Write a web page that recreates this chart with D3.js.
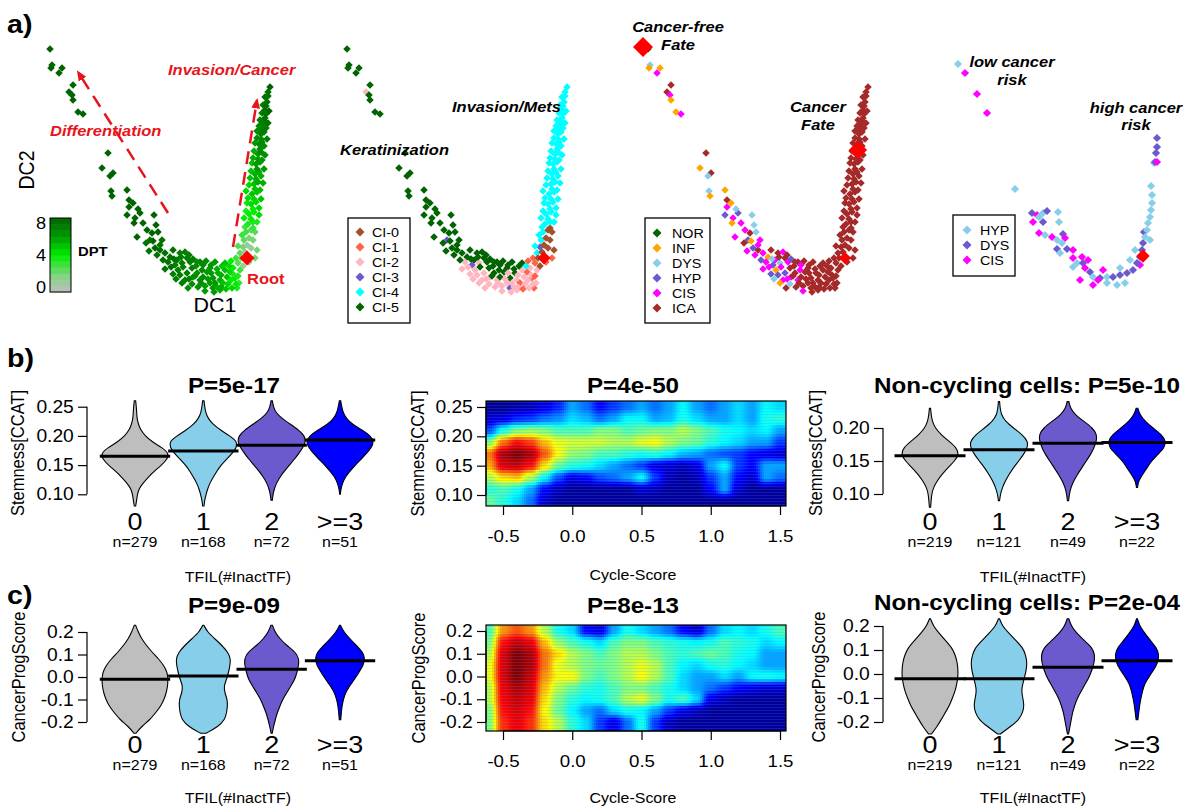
<!DOCTYPE html>
<html>
<head>
<meta charset="utf-8">
<title>TFIL figure</title>
<script src="https://cdn.jsdelivr.net/npm/d3@7"></script>
<style>
  body { margin: 0; background: #fff; }
  svg { display: block; font-family: "Liberation Sans", Arial, Helvetica, sans-serif; }
</style>
</head>
<body>
<div id="figure"></div>
<script>
// ---------------- data ----------------

// panel a: diffusion map, one row per cell: [DC1, DC2, DPT, cluster, stage]
const clusterNames = ["CI-0", "CI-1", "CI-2", "CI-3", "CI-4", "CI-5"];
const clusterColors = ["#a0522d", "#ff6347", "#ffb6c1", "#6a5acd", "#00ffff", "#006400"];
const stageNames = ["NOR", "INF", "DYS", "HYP", "CIS", "ICA"];
const stageColors = ["#006400", "#ffa500", "#87ceeb", "#6a5acd", "#ff00ff", "#a52a2a"];
const riskNames = ["HYP", "DYS", "CIS"];
const riskColors = ["#87ceeb", "#6a5acd", "#ff00ff"];

const cells = [
  [2.5,123,8,5,0],[3.5,115,8,5,2],[3,113.5,8,5,1],[8.5,113.5,8,5,1],[7,111,8,5,4],
  [14,105,8,5,5],[12,101.5,8,2,5],[13.5,100,8,5,4],[14,97.5,8,5,1],[16.5,91.5,8,5,1],
  [19,90.5,8,5,4],[31.5,71,8,5,5],[28.5,63.5,8,5,1],[34,61,8,5,5],[32.5,59.5,8,5,2],
  [33,52,8,5,2],[33.5,49.5,8,5,1],[41,52.5,8,5,1],[42,47.5,8,5,5],[44,46,8,5,1],
  [41,40,8,5,3],[45,38.5,8,5,4],[47.5,41,8,5,3],[44.5,36,8,5,1],[46,29,8,5,4],
  [54.5,40,8,5,2],[55.5,35,8,5,2],[53.5,31,8,5,5],[52.5,27.5,7.5,3,3],[58.5,27.5,7.5,5,4],
  [57.5,22.5,7.5,5,5],[51,32.5,8,5,4],[46.5,43,8,5,2],[42,44,8,5,4],[57.5,25,7.5,5,4],
  [55,23.5,8,5,3],[49,36,8,5,4],[50.5,26,7.5,5,5],[54,27,8,5,1],[56.5,31.5,8,5,2],
  [52,22,7.5,5,4],
  [60,21,7.5,5,4],[62.5,19,7.5,5,1],[64,22.5,7.5,5,5],[66,17.5,7,5,4],[67.5,21,7,5,5],
  [68.5,16,7,2,2],[71,18.5,7,5,5],[69,14,7,5,4],[71,11,7,2,3],[73.5,13.5,7,5,5],
  [74,9,6.5,2,4],[76,11,6.5,5,5],[77.5,7.5,6.5,2,4],[79,9,6.5,5,5],[81,11.5,6,5,5],
  [82.5,6,6,2,5],[65,15,7,3,3],[61.5,16.5,7.5,2,4],[66.5,12.5,7,2,1],[70,7.5,7,2,4],
  [73.5,5.5,6.5,2,2],[76.5,4,6.5,2,5],[80,4.5,6,2,5],[84,3.5,6,3,5],[86,4,5.5,2,5],
  [84,8.5,6,5,5],[87.5,7.5,5.5,2,5],[89,6,5,1,5],[91,9,5,2,5],[92.5,11.5,4.5,1,5],
  [94,13.5,4,2,5],[90,12.5,5,2,5],[86.5,11,5.5,5,5],[88.5,14.5,5,5,5],[91.5,5.5,4.5,2,5],
  [95,8.5,4,1,5],[72.5,16.5,7,5,4],[75.5,14.5,6.5,5,5],[78.5,12.5,6.5,5,4],[81.5,8,6,2,5],
  [67.5,10,7,2,3],[75,9.5,6.5,5,5],[85,6,6,2,5],[87.5,2.5,5.5,2,5],[80,2,6,2,4],
  [77.5,16.5,7,5,5],[82.5,13.5,6,5,5],[85,16.5,6,5,5],
  [56,20,7.5,5,4],[59,17.5,7.5,5,3],[63,14,7.5,2,4],[64.5,18,7.5,5,2],[68,19,7,5,5],
  [70,21.5,7,5,4],[72,20,7,5,5],[74,18,7,5,3],[76,16.5,6.5,5,5],[79,15,6.5,5,4],
  [80.5,17,6.5,5,5],[83,15,6,5,5],[86,13,5.5,5,5],[88,10,5.5,2,5],[90,16,5,5,5],
  [92,14.5,4.5,4,5],[93,17,4,1,5],[78,6,6.5,2,5],[83,11,6,2,5],[72,8,7,2,4],
  [68.5,6,7,2,1],[64,10.5,7,2,3],[60,13,7.5,2,4],[65.5,8,7,2,2],[71.5,3.5,6.5,2,5],
  [88,4,5.5,2,5],[84.5,1.5,6,2,5],[90.5,3,5,1,5],[96,3.5,3.5,1,5],[97,6,3,2,5],
  [96.5,16,2.5,1,5],[97.5,12.5,3,2,5],[99,14.5,1.5,0,5],[97.5,21,2.5,4,5],[100,21.5,1,0,5],
  [102,16.5,1.5,1,5],[99,24,2,3,5],[101,25,1,0,5],[103,23.5,1.5,0,5],[99.5,27.5,2.5,4,5],
  [102,28.5,2,0,5],[104,27.5,2,0,5],[100.5,31.5,3,4,5],[103,32.5,2.5,0,5],[105,31.5,2.5,0,5],
  [106,22.5,2,0,5],[105,18.5,2,1,5],[95.5,5.5,4,2,5],[93.5,3.5,4.5,2,5],[95.5,18.5,3,1,5],
  [98,18.5,2,0,5],[96.5,24.5,2.5,4,5],[98.5,30,3,4,5],[94.5,10,3.5,2,5],[96.5,9.5,3.5,1,5],
  [93,7.5,4,2,5],[104,33.5,3,0,5],
  [100,34,3,4,5],[100.5,42,3.5,4,5],[101,46,4,4,5],[100.5,52,4.5,4,5],[102,55,4.5,4,5],
  [103,62,5,4,5],[103.5,66,5,4,5],[104.5,72,5.5,4,5],[105,76,6,4,5],[106,82,6.5,4,5],
  [107,84.5,6.5,4,5],[108.5,91,7,4,5],[109,95,7,4,5],[110,99,7.5,4,5],
  [101.5,35.5,3.5,4,5],[104,36.5,3.5,4,5],[99.5,38.5,4,4,5],[103,38,4,4,5],[106,36.5,3.5,4,5],
  [102,40.5,4,4,5],[104.5,41.5,4,4,5],[104,43,4,4,5],[107,43.5,4.5,4,5],[103,45.5,4.5,4,5],
  [105.5,46.5,4.5,4,5],[101.5,48.5,4.5,4,5],[104.5,48,4.5,4,5],[103.5,50.5,5,4,5],[106,51.5,5,4,5],
  [107.5,52.5,5,4,5],[105,53,5,4,5],[104.5,55.5,5,4,5],[106.5,56.5,5.5,4,5],[105.5,58,5.5,4,5],
  [102.5,58.5,5,4,5],[108,59.5,5.5,4,5],[105,60.5,5.5,4,5],[107,61.5,5.5,4,5],[106,63,6,4,5],
  [105.5,65.5,6,4,5],[107.5,66.5,6,4,5],[108.5,67.5,6,4,5],[106.5,68,6,4,5],[104,68.5,5.5,4,5],
  [106.5,70.5,6,4,5],[108,71.5,6.5,4,5],[107.5,73,6.5,4,5],[109.5,74.5,6.5,4,5],[107,75.5,6.5,4,5],
  [108.5,76.5,6.5,4,5],[108,78,6.5,4,5],[106,78.5,6.5,4,5],[108,80.5,7,4,5],[109.5,81.5,7,4,5],
  [108.5,83,7,4,5],[110.5,83.5,7,4,5],[109,85.5,7,4,5],[109.5,87,7,4,5],[107.5,87.5,7,4,5],
  [110,88.5,7.5,4,5],[110.5,90.5,7.5,4,5],[110,92.5,7.5,4,5],[110.5,94.5,7.5,4,5],[111,96.5,7.5,4,5],
  [111.5,99.5,7.5,4,5],[111.5,101.5,7.5,4,5],[112.5,104,8,4,5],
  [107,40,4.5,4,5],[108,48,5,4,5],[109,56,5.5,4,5],[109.5,63,6,4,5],[110,70,6.5,4,5],
  [111,78,7,4,5],[111.5,86,7.5,4,5],[112,92,8,4,5]
];

// pre-invasive lesions only: [DC1, DC2, class(0 HYP, 1 DYS, 2 CIS)]
const riskCells = [
  [9,115.5,0],[12.5,111,2],[18.5,100.5,2],[23.5,91,2],[37.5,53,0],
  [46,41,1],[48.5,40,2],[49.5,39,0],[51.5,41,0],[53.5,42,1],[59,41.5,0],[59.5,36.5,0],
  [46.5,36.5,2],[51.5,36.5,1],[52.5,30,0],
  [49.5,31,2],[56,29,2],[58.5,27.5,0],[61.5,30.5,1],[62.5,28.5,2],[61,26,0],
  [58.5,23,1],[63.5,23,1],[66.5,22.5,2],[60,21,0],
  [66.5,18.5,2],[71,19,2],[68.5,16,0],[71.5,16,1],[74,17.5,2],
  [66.5,14,0],[72.5,13.5,2],[75,11.5,1],[76.5,9,0],[80,8.5,1],[81.5,12.5,2],[83.5,9,0],
  [86.5,9,1],[90,10,1],[90,13.5,0],[93.5,11,1],[96.5,12.5,1],[95,17.5,0],[100,15,2],
  [98.5,16,1],[97.5,22.5,0],[100,19,1],[101,22.5,1],[101.5,26,1],[102,31.5,1],[105,27.5,0],
  [102.5,29,0],[103.5,32.5,0],[104,36,0],[105,39,0],[105.5,42.5,0],[106,46,0],[106,50,0],
  [105.5,54.5,0],[107,66,0],[107.5,66.5,1],[108.5,66.5,2],[108,71,1],[108.5,74,1],[108.5,78.5,1],
  [70,7.5,2],[76.5,5,2],[79,7.5,2],[83.5,6,0],[88.5,5,0],[92.5,6,0]
];

const rootPos = [101, 18.5];
const riskRootPos = [101.5, 19.5];
const cancerFreePos = [0, 124];
const cancerFatePos = [107.5, 72.5];
const diffArrow = [[61.5, 41], [16.5, 111.5]];
const cancerArrow = [[94, 24], [106, 97.5]];
const dptTicks = [0, 4, 8];

// panels b/c: violins
const tfilCats = ["0", "1", "2", ">=3"];
const nAll = ["n=279", "n=168", "n=72", "n=51"];
const nNonCyc = ["n=219", "n=121", "n=49", "n=22"];
const violinFill = ["#bebebe", "#87ceeb", "#6a5acd", "#0000ff"];

const stemTicksAll = [0.10, 0.15, 0.20, 0.25];
const stemLabelsAll = ["0.10", "0.15", "0.20", "0.25"];
const stemTicksNon = [0.10, 0.15, 0.20];
const stemLabelsNon = ["0.10", "0.15", "0.20"];
const progTicks = [-0.2, -0.1, 0.0, 0.1, 0.2];
const progLabels = ["-0.2", "-0.1", "0.0", "0.1", "0.2"];
const cycleTicks = [-0.5, 0.0, 0.5, 1.0, 1.5];
const cycleLabels = ["-0.5", "0.0", "0.5", "1.0", "1.5"];

const stemGridAll = [0.08,0.09,0.10,0.11,0.12,0.13,0.14,0.15,0.16,0.17,0.18,0.19,0.20,0.21,0.22,0.23,0.24,0.25,0.26];
const stemDensAll = [
  [0.02,0.05,0.07,0.12,0.25,0.40,0.58,0.78,0.95,1.0,0.80,0.50,0.30,0.17,0.10,0.06,0.05,0.04,0.02],
  [0.02,0.04,0.08,0.13,0.20,0.30,0.40,0.52,0.68,0.85,0.98,1.0,0.78,0.50,0.28,0.14,0.07,0.04,0.02],
  [0,0.02,0.04,0.08,0.15,0.25,0.38,0.52,0.67,0.80,0.92,1.0,0.97,0.80,0.55,0.30,0.12,0.05,0.02],
  [0,0,0.01,0.03,0.08,0.16,0.30,0.45,0.62,0.78,0.92,1.0,0.90,0.65,0.36,0.18,0.09,0.05,0.02]
];
const stemMedAll = [0.165, 0.174, 0.184, 0.193];

const stemGridNon = [0.08,0.09,0.10,0.11,0.12,0.13,0.14,0.15,0.16,0.17,0.18,0.19,0.20,0.21,0.22,0.23,0.24];
const stemDensNon = [
  [0.02,0.04,0.06,0.12,0.25,0.42,0.62,0.85,1.0,0.92,0.65,0.38,0.18,0.08,0.04,0.02,0],
  [0,0.02,0.05,0.12,0.22,0.35,0.50,0.68,0.85,0.98,1.0,0.80,0.50,0.22,0.08,0.04,0.02],
  [0,0.02,0.05,0.10,0.20,0.33,0.48,0.63,0.78,0.90,0.98,1.0,0.85,0.55,0.25,0.08,0.03],
  [0,0,0,0.02,0.05,0.20,0.35,0.50,0.72,0.95,1.0,0.85,0.55,0.28,0.10,0.03,0]
];
const stemMedNon = [0.158, 0.167, 0.177, 0.178];

const progGrid = [-0.25,-0.22,-0.19,-0.16,-0.13,-0.10,-0.07,-0.04,-0.01,0.02,0.05,0.08,0.11,0.14,0.17,0.20,0.23];
const progDensAll = [
  [0.03,0.20,0.45,0.62,0.78,0.88,0.95,0.99,1.0,0.98,0.88,0.72,0.52,0.35,0.20,0.10,0.02],
  [0.10,0.55,0.78,0.85,0.88,0.88,0.78,0.75,0.85,0.92,0.97,1.0,0.90,0.68,0.42,0.15,0.02],
  [0.02,0.07,0.13,0.20,0.30,0.40,0.55,0.70,0.85,0.92,0.98,1.0,0.88,0.55,0.30,0.12,0.03],
  [0,0,0.03,0.05,0.08,0.13,0.22,0.38,0.58,0.75,0.92,1.0,0.92,0.65,0.40,0.15,0.02]
];
const progPeakAll = [1, 0.83, 0.83, 0.76];
const progMedAll = [-0.01, 0.005, 0.035, 0.072];

const progDensNon = [
  [0.05,0.25,0.40,0.55,0.70,0.80,0.90,0.96,1.0,1.0,0.97,0.90,0.78,0.55,0.32,0.12,0.02],
  [0.05,0.40,0.72,0.85,0.90,0.85,0.80,0.85,0.92,0.98,1.0,0.95,0.85,0.60,0.35,0.12,0.02],
  [0.02,0.07,0.12,0.17,0.25,0.35,0.50,0.65,0.80,0.90,0.98,1.0,0.90,0.60,0.32,0.12,0.03],
  [0,0,0.04,0.08,0.12,0.18,0.25,0.35,0.55,0.78,0.95,1.0,0.88,0.60,0.35,0.12,0.02]
];
const progPeakNon = [1, 1, 0.96, 0.79];
const progMedNon = [-0.02, -0.02, 0.028, 0.055];

// density heat maps: columns = Cycle-Score, rows = score (top to bottom)
const heatCycle = [-0.6,-0.5,-0.4,-0.3,-0.2,-0.1,0.0,0.1,0.2,0.3,0.4,0.5,0.6,0.7,0.8,0.9,1.0,1.1,1.2,1.3,1.4,1.5];
const heatStemRows = [0.25, 0.23, 0.21, 0.19, 0.17, 0.15, 0.13, 0.11, 0.09];
const heatStem = [
  [0.04,0.04,0.06,0.08,0.12,0.18,0.30,0.25,0.15,0.20,0.25,0.30,0.25,0.30,0.38,0.30,0.25,0.30,0.35,0.30,0.38,0.35],
  [0.10,0.12,0.18,0.20,0.25,0.28,0.35,0.32,0.25,0.30,0.38,0.38,0.30,0.32,0.40,0.35,0.30,0.30,0.35,0.30,0.40,0.42],
  [0.22,0.40,0.50,0.52,0.50,0.45,0.45,0.45,0.50,0.50,0.45,0.48,0.50,0.50,0.55,0.50,0.45,0.40,0.38,0.35,0.38,0.30],
  [0.50,0.75,0.85,0.80,0.68,0.60,0.58,0.58,0.58,0.55,0.55,0.60,0.62,0.55,0.50,0.48,0.42,0.38,0.35,0.30,0.30,0.20],
  [0.75,0.95,1.00,0.95,0.78,0.62,0.52,0.50,0.45,0.45,0.42,0.40,0.42,0.38,0.32,0.30,0.25,0.22,0.20,0.15,0.12,0.10],
  [0.70,0.90,0.92,0.85,0.65,0.48,0.42,0.40,0.35,0.30,0.25,0.20,0.12,0.10,0.08,0.12,0.30,0.38,0.20,0.15,0.30,0.30],
  [0.55,0.65,0.68,0.55,0.38,0.22,0.12,0.15,0.22,0.25,0.30,0.38,0.20,0.08,0.05,0.08,0.20,0.30,0.15,0.10,0.30,0.25],
  [0.42,0.45,0.40,0.30,0.15,0.08,0.05,0.05,0.05,0.05,0.05,0.10,0.08,0.05,0.05,0.05,0.15,0.30,0.10,0.05,0.05,0.05],
  [0.48,0.42,0.35,0.25,0.10,0.05,0.05,0.05,0.05,0.05,0.05,0.05,0.05,0.05,0.05,0.05,0.05,0.05,0.05,0.05,0.05,0.05]
];
const heatProgRows = [0.2, 0.15, 0.1, 0.05, 0.0, -0.05, -0.1, -0.15, -0.2];
const heatProg = [
  [0.45,0.72,0.78,0.72,0.55,0.40,0.35,0.15,0.12,0.30,0.40,0.35,0.30,0.25,0.15,0.10,0.25,0.35,0.38,0.35,0.40,0.45],
  [0.50,0.85,0.92,0.88,0.68,0.52,0.45,0.40,0.35,0.45,0.50,0.50,0.45,0.42,0.40,0.38,0.40,0.45,0.42,0.40,0.35,0.38],
  [0.55,0.90,1.00,0.95,0.75,0.65,0.55,0.50,0.45,0.50,0.55,0.55,0.50,0.45,0.42,0.45,0.48,0.45,0.40,0.38,0.30,0.30],
  [0.60,0.90,1.00,0.95,0.75,0.60,0.55,0.50,0.48,0.50,0.55,0.60,0.55,0.45,0.38,0.35,0.40,0.42,0.38,0.35,0.30,0.30],
  [0.60,0.90,1.00,0.92,0.72,0.62,0.62,0.50,0.45,0.50,0.55,0.62,0.55,0.45,0.35,0.30,0.30,0.35,0.30,0.38,0.40,0.38],
  [0.55,0.88,0.95,0.90,0.68,0.55,0.48,0.42,0.40,0.45,0.50,0.50,0.45,0.40,0.35,0.30,0.25,0.20,0.15,0.12,0.10,0.10],
  [0.55,0.87,0.92,0.88,0.65,0.50,0.42,0.38,0.40,0.45,0.55,0.60,0.50,0.40,0.45,0.35,0.12,0.08,0.05,0.05,0.05,0.05],
  [0.50,0.85,0.90,0.85,0.62,0.48,0.38,0.30,0.25,0.35,0.40,0.38,0.30,0.20,0.12,0.08,0.05,0.05,0.05,0.05,0.05,0.05],
  [0.50,0.82,0.88,0.82,0.65,0.55,0.42,0.35,0.20,0.12,0.25,0.40,0.20,0.08,0.05,0.05,0.05,0.05,0.05,0.05,0.05,0.05]
];

// ---------------- drawing ----------------
const SX = 1.1;            // horizontal stretch of the original figure's lettering
const RED = "#ff0000";
const ANN_RED = "#e8141c";

const svg = d3.select("#figure").append("svg")
  .attr("width", 1193).attr("height", 810);

function label(g, x, y, s, size, opt = {}) {
  const t = g.append("text")
    .attr("transform", opt.rotate
      ? `translate(${x},${y}) rotate(-90) scale(1,${SX})`
      : `translate(${x},${y}) scale(${SX},1)`)
    .attr("text-anchor", opt.anchor || "start")
    .attr("font-size", size)
    .attr("fill", opt.color || "#000")
    .text(s);
  if (opt.bold) t.attr("font-weight", "bold");
  if (opt.italic) t.attr("font-style", "italic");
  return t;
}

function rAxis(g, scale, ticks, labels, orient, pos, fontSize, tickLen, pad) {
  const ax = (orient === "left" ? d3.axisLeft(scale) : d3.axisBottom(scale))
    .tickValues(ticks)
    .tickFormat((d, i) => labels[i])
    .tickSize(tickLen).tickSizeOuter(0).tickPadding(pad);
  const a = g.append("g")
    .attr("transform", orient === "left" ? `translate(${pos},0)` : `translate(0,${pos})`)
    .call(ax)
    .attr("font-family", null).attr("font-size", null);
  const t0 = scale(ticks[0]), t1 = scale(ticks[ticks.length - 1]);
  a.select(".domain")
    .attr("d", orient === "left" ? `M0,${t0}V${t1}` : `M${t0},0H${t1}`)
    .attr("stroke", "#000").attr("stroke-width", 1.2);
  a.selectAll(".tick line").attr("stroke", "#000").attr("stroke-width", 1.2);
  a.selectAll(".tick text")
    .attr("font-size", fontSize).attr("fill", "#000")
    .attr("transform", `scale(${SX},1)`);
  return a;
}

// ---- panel a ----
const dc1Domain = [0, 115], dc2Domain = [0, 125];
const panelLeft = [45, 342, 643, 940];
const yDC = d3.scaleLinear().domain(dc2Domain).range([295, 45]);
const xDC = panelLeft.map(l => d3.scaleLinear().domain(dc1Domain).range([l, l + 230]));
const dptColor = d3.scaleLinear().domain([0, 1.5, 4, 6, 8])
  .range(["#bebebe", "#90d090", "#00ee00", "#009a00", "#006400"]);

const diamondPath = size => d3.symbol().type(d3.symbolSquare).size(size)();

function drawPoints(g, pts, x, color, size) {
  g.append("g").selectAll("path").data(pts).join("path")
    .attr("d", diamondPath(size))
    .attr("transform", d => `translate(${x(d[0])},${yDC(d[1])}) rotate(45)`)
    .attr("fill", color);
}
function bigDiamond(g, pos, x, size) {
  g.append("path").attr("d", diamondPath(size))
    .attr("transform", `translate(${x(pos[0])},${yDC(pos[1])}) rotate(45)`)
    .attr("fill", RED);
}
function legend(g, x0, y0, w, h, firstY, names, colors, mx, tx) {
  g.append("rect").attr("x", x0).attr("y", y0).attr("width", w).attr("height", h)
    .attr("fill", "#fff").attr("stroke", "#000").attr("stroke-width", 1.3);
  const step = 15;
  names.forEach((n, i) => {
    g.append("path").attr("d", diamondPath(40))
      .attr("transform", `translate(${mx},${firstY + i * step}) rotate(45)`)
      .attr("fill", colors[i]);
    label(g, tx, firstY + i * step + 4.5, n, 13);
  });
}

const defs = svg.append("defs");
defs.append("marker").attr("id", "arrowHead")
  .attr("viewBox", "0 0 10 10").attr("refX", 8).attr("refY", 5)
  .attr("markerWidth", 4.2).attr("markerHeight", 4.2)
  .attr("orient", "auto")
  .append("path").attr("d", "M0,0.8L10,5L0,9.2Z").attr("fill", ANN_RED);

label(svg, 7, 33, "a)", 26, {bold: true});
label(svg, 7, 367, "b)", 26, {bold: true});
label(svg, 7, 604, "c)", 26, {bold: true});

// a1: DPT
const a1 = svg.append("g");
drawPoints(a1, cells, xDC[0], d => dptColor(d[2]), 28);
bigDiamond(a1, rootPos, xDC[0], 112);
[diffArrow, cancerArrow].forEach(ar => {
  a1.append("line")
    .attr("x1", xDC[0](ar[0][0])).attr("y1", yDC(ar[0][1]))
    .attr("x2", xDC[0](ar[1][0])).attr("y2", yDC(ar[1][1]))
    .attr("stroke", ANN_RED).attr("stroke-width", 2.5)
    .attr("stroke-dasharray", "13,8").attr("marker-end", "url(#arrowHead)");
});
label(a1, 168, 75, "Invasion/Cancer", 15, {bold: true, italic: true, color: ANN_RED});
label(a1, 50, 136, "Differentiation", 15, {bold: true, italic: true, color: ANN_RED});
label(a1, 247, 284, "Root", 15, {bold: true, color: ANN_RED});
label(a1, 34, 170, "DC2", 19.5, {rotate: true, anchor: "middle"});
label(a1, 215, 312, "DC1", 19.5, {anchor: "middle"});
// DPT colour key
const cbY = d3.scaleLinear().domain([0, 8]).range([292, 218]);
const cbBand = 8 / 12;
a1.append("g").selectAll("rect").data(d3.range(0, 8 - 1e-9, cbBand)).join("rect")
  .attr("x", 50).attr("width", 21)
  .attr("y", d => cbY(d + cbBand)).attr("height", d => cbY(d) - cbY(d + cbBand) + 0.5)
  .attr("fill", d => dptColor(d + cbBand / 2));
a1.append("rect").attr("x", 50).attr("y", cbY(8)).attr("width", 21).attr("height", cbY(0) - cbY(8))
  .attr("fill", "none").attr("stroke", "#000").attr("stroke-width", 1);
const cbLab = d3.scaleLinear().domain([0, 8]).range([287, 223]);
dptTicks.forEach(v => label(a1, 46, cbLab(v) + 6, String(v), 16.5, {anchor: "end"}));
label(a1, 78, 256, "DPT", 13.5, {bold: true});

// a2: clusters
const a2 = svg.append("g");
drawPoints(a2, cells, xDC[1], d => clusterColors[d[3]], 28);
bigDiamond(a2, rootPos, xDC[1], 85);
label(a2, 340, 155, "Keratinization", 15, {bold: true, italic: true});
label(a2, 452, 112, "Invasion/Mets", 15, {bold: true, italic: true});
legend(a2, 348, 218, 62, 105, 232, clusterNames, clusterColors, 360, 372);

// a3: stages
const a3 = svg.append("g");
drawPoints(a3, cells, xDC[2], d => stageColors[d[4]], 28);
bigDiamond(a3, cancerFreePos, xDC[2], 200);
bigDiamond(a3, cancerFatePos, xDC[2], 165);
bigDiamond(a3, rootPos, xDC[2], 75);
label(a3, 678, 32, "Cancer-free", 15, {bold: true, italic: true, anchor: "middle"});
label(a3, 678, 50, "Fate", 15, {bold: true, italic: true, anchor: "middle"});
label(a3, 818, 112, "Cancer", 15, {bold: true, italic: true, anchor: "middle"});
label(a3, 818, 130, "Fate", 15, {bold: true, italic: true, anchor: "middle"});
legend(a3, 645, 218, 65, 105, 233, stageNames, stageColors, 657, 672);

// a4: pre-invasive lesions
const a4 = svg.append("g");
drawPoints(a4, riskCells, xDC[3], d => riskColors[d[2]], 34);
bigDiamond(a4, riskRootPos, xDC[3], 90);
label(a4, 1012, 67, "low cancer", 15, {bold: true, italic: true, anchor: "middle"});
label(a4, 1012, 85, "risk", 15, {bold: true, italic: true, anchor: "middle"});
label(a4, 1136, 113, "high cancer", 15, {bold: true, italic: true, anchor: "middle"});
label(a4, 1136, 130, "risk", 15, {bold: true, italic: true, anchor: "middle"});
legend(a4, 953, 215, 62, 61, 230, riskNames, riskColors, 967, 980);

// ---- violins ----
const bandL = d3.scaleBand().domain(tfilCats).range([100.8, 374.2]);
const bandR = d3.scaleBand().domain(tfilCats).range([895.5, 1171.5]);

function violinPanel(o) {
  const g = svg.append("g");
  o.dens.forEach((dv, i) => {
    const peak = o.peaks ? o.peaks[i] : 1;
    const pts = o.grid.map((v, j) => [v, dv[j] * peak]).filter(p => p[1] > 0);
    const cx = o.band(tfilCats[i]) + o.band.bandwidth() / 2;
    const area = d3.area().curve(d3.curveBasis)
      .y(p => o.y(p[0]))
      .x0(p => cx - p[1] * o.hw)
      .x1(p => cx + p[1] * o.hw);
    g.append("path").attr("d", area(pts))
      .attr("fill", violinFill[i]).attr("stroke", "#000").attr("stroke-width", 1.1);
  });
  o.meds.forEach((m, i) => {
    g.append("line")
      .attr("x1", o.band(tfilCats[i]) - 1).attr("x2", o.band(tfilCats[i]) + o.band.bandwidth() + 1)
      .attr("y1", o.y(m)).attr("y2", o.y(m))
      .attr("stroke", "#000").attr("stroke-width", 3);
  });
  rAxis(g, o.y, o.ticks, o.tickLabels, "left", o.axisX, 17.5, 9, 3);
  tfilCats.forEach((c, i) => {
    const cx = o.band(c) + o.band.bandwidth() / 2;
    label(g, cx, o.catY, c, 24.5, {anchor: "middle"});
    label(g, cx, o.catY + 17, o.ns[i], 14.5, {anchor: "middle"});
  });
  label(g, o.titleX, o.titleY, o.title, 22, {bold: true, anchor: "middle"});
  label(g, o.ylabX, o.ylabY, o.ylab, 16.5, {rotate: true, anchor: "middle"});
  label(g, o.xlabX, o.xlabY, "TFIL(#InactTF)", 14.5, {anchor: "middle"});
}

violinPanel({
  grid: stemGridAll, dens: stemDensAll, meds: stemMedAll, band: bandL, hw: 34,
  y: d3.scaleLinear().domain([0.10, 0.25]).range([494.3, 406.7]),
  ticks: stemTicksAll, tickLabels: stemLabelsAll, axisX: 87, ns: nAll, catY: 530,
  title: "P=5e-17", titleX: 234, titleY: 393, ylab: "Stemness[CCAT]", ylabX: 24, ylabY: 453,
  xlabX: 238, xlabY: 582
});
violinPanel({
  grid: stemGridNon, dens: stemDensNon, meds: stemMedNon, band: bandR, hw: 29,
  y: d3.scaleLinear().domain([0.10, 0.20]).range([494, 428]),
  ticks: stemTicksNon, tickLabels: stemLabelsNon, axisX: 883, ns: nNonCyc, catY: 530,
  title: "Non-cycling cells: P=5e-10", titleX: 1027, titleY: 393, ylab: "Stemness[CCAT]", ylabX: 822, ylabY: 453,
  xlabX: 1033, xlabY: 582
});
violinPanel({
  grid: progGrid, dens: progDensAll, peaks: progPeakAll, meds: progMedAll, band: bandL, hw: 33,
  y: d3.scaleLinear().domain([-0.2, 0.2]).range([722, 632]),
  ticks: progTicks, tickLabels: progLabels, axisX: 87, ns: nAll, catY: 753,
  title: "P=9e-09", titleX: 234, titleY: 613, ylab: "CancerProgScore", ylabX: 25, ylabY: 677,
  xlabX: 238, xlabY: 803
});
violinPanel({
  grid: progGrid, dens: progDensNon, peaks: progPeakNon, meds: progMedNon, band: bandR, hw: 28,
  y: d3.scaleLinear().domain([-0.2, 0.2]).range([722, 626]),
  ticks: progTicks, tickLabels: progLabels, axisX: 883, ns: nNonCyc, catY: 753,
  title: "Non-cycling cells: P=2e-04", titleX: 1027, titleY: 610, ylab: "CancerProgScore", ylabX: 825, ylabY: 677,
  xlabX: 1033, xlabY: 803
});

// ---- heat maps ----
const jet = d3.scaleLinear()
  .domain([0.04, 0.15, 0.38, 0.62, 0.86, 1])
  .range(["#00008f", "#0000ff", "#00ffff", "#ffff00", "#ff0000", "#800000"])
  .clamp(true);

function gridPos(arr, v) {
  const n = arr.length;
  let t = (v - arr[0]) / (arr[1] - arr[0]);
  t = Math.max(0, Math.min(n - 1, t));
  const i = Math.min(n - 2, Math.floor(t));
  let f = t - i;
  f = f * f * (3 - 2 * f);
  return [i, f];
}

function heatPanel(o) {
  const g = svg.append("g");
  const [bx0, bx1] = o.boxX, [by0, by1] = o.boxY;
  const cellsH = [];
  for (let py = by0; py < by1; py += 3) {
    for (let px = bx0; px < bx1; px += 2) {
      const [ci, cf] = gridPos(heatCycle, o.x.invert(px + 1));
      const [ri, rf] = gridPos(o.rows, o.y.invert(py + 1.5));
      const m = o.grid;
      const top = m[ri][ci] * (1 - cf) + m[ri][ci + 1] * cf;
      const bot = m[ri + 1][ci] * (1 - cf) + m[ri + 1][ci + 1] * cf;
      cellsH.push([px, py, top * (1 - rf) + bot * rf]);
    }
  }
  g.append("g").selectAll("rect").data(cellsH).join("rect")
    .attr("x", d => d[0]).attr("y", d => d[1])
    .attr("width", d => Math.min(2.4, bx1 - d[0]))
    .attr("height", d => Math.min(3.4, by1 - d[1]))
    .attr("fill", d => jet(d[2]));
  g.append("g").selectAll("line").data(d3.range(by0 + 1, by1, 3)).join("line")
    .attr("x1", bx0).attr("x2", bx1).attr("y1", d => d + 0.5).attr("y2", d => d + 0.5)
    .attr("stroke", "#6080ff").attr("stroke-opacity", 0.2).attr("stroke-width", 1);
  g.append("rect").attr("x", bx0).attr("y", by0).attr("width", bx1 - bx0).attr("height", by1 - by0)
    .attr("fill", "none").attr("stroke", "#000").attr("stroke-width", 1.2);
  rAxis(g, o.y, o.yTicks, o.yLabels, "left", bx0, 17.5, 9, 3);
  rAxis(g, o.x, cycleTicks, cycleLabels, "bottom", by1, 17, 9, 15);
  label(g, 633, o.titleY, o.title, 22, {bold: true, anchor: "middle"});
  label(g, o.ylabX, (by0 + by1) / 2, o.ylab, 16.5, {rotate: true, anchor: "middle"});
  label(g, 633, o.xlabY, "Cycle-Score", 14.5, {anchor: "middle"});
}

const xCycle = d3.scaleLinear().domain([-0.5, 1.5]).range([503, 780]);
heatPanel({
  grid: heatStem, rows: heatStemRows, x: xCycle,
  y: d3.scaleLinear().domain([0.10, 0.25]).range([495, 407]),
  boxX: [486, 786], boxY: [401, 506],
  yTicks: stemTicksAll, yLabels: stemLabelsAll,
  title: "P=4e-50", titleY: 393, ylab: "Stemness[CCAT]", ylabX: 424, xlabY: 580
});
heatPanel({
  grid: heatProg, rows: heatProgRows, x: xCycle,
  y: d3.scaleLinear().domain([-0.2, 0.2]).range([722, 631]),
  boxX: [486, 786], boxY: [625, 731],
  yTicks: progTicks, yLabels: progLabels,
  title: "P=8e-13", titleY: 613, ylab: "CancerProgScore", ylabX: 425, xlabY: 803
});
</script>
</body>
</html>
